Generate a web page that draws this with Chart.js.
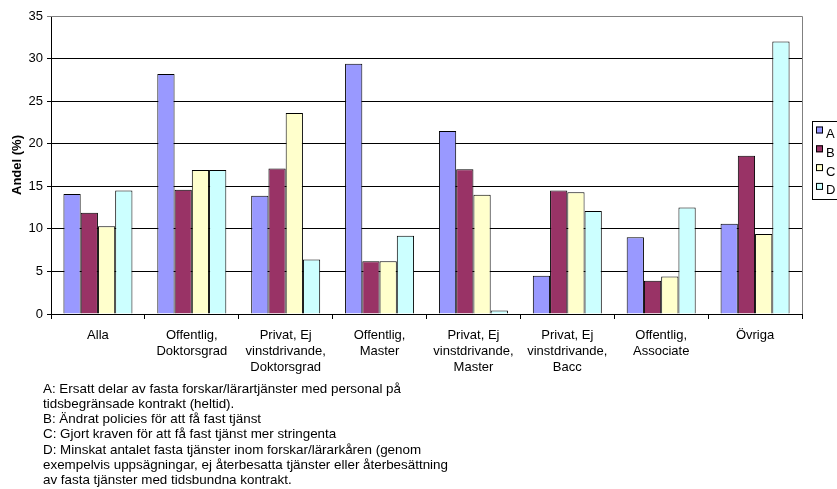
<!DOCTYPE html>
<html>
<head>
<meta charset="utf-8">
<script src="https://cdn.jsdelivr.net/npm/chart.js@4/dist/chart.umd.min.js"></script>
<style>
  html, body { margin: 0; padding: 0; background: #fff; }
  #wrap { width: 837px; height: 489px; position: relative; }
</style>
</head>
<body>
<div id="wrap"><canvas id="c" width="837" height="489"></canvas></div>
<script>
// Categories (multi-line labels)
const categories = [
  ['Alla'],
  ['Offentlig,', 'Doktorsgrad'],
  ['Privat, Ej', 'vinstdrivande,', 'Doktorsgrad'],
  ['Offentlig,', 'Master'],
  ['Privat, Ej', 'vinstdrivande,', 'Master'],
  ['Privat, Ej', 'vinstdrivande,', 'Bacc'],
  ['Offentlig,', 'Associate'],
  ['Övriga']
];

// Share (%) per category for each measure
const seriesA = [14.1, 28.2, 13.9, 29.4, 21.5, 4.5, 9.0, 10.6];
const seriesB = [11.9, 14.6, 17.1, 6.2, 17.0, 14.5, 3.9, 18.6];
const seriesC = [10.3, 16.9, 23.6, 6.2, 14.0, 14.3, 4.4, 9.4];
const seriesD = [14.5, 16.9, 6.4, 9.2, 0.4, 12.1, 12.5, 32.0];

const seriesNames = ['A', 'B', 'C', 'D'];
const yTicks = [0, 5, 10, 15, 20, 25, 30, 35];

const footnoteLines = [
  'A: Ersatt delar av fasta forskar/lärartjänster med personal på',
  'tidsbegränsade kontrakt (heltid).',
  'B: Ändrat policies för att få fast tjänst',
  'C: Gjort kraven för att få fast tjänst mer stringenta',
  'D: Minskat antalet fasta tjänster inom forskar/lärarkåren (genom',
  'exempelvis uppsägningar, ej återbesatta tjänster eller återbesättning',
  'av fasta tjänster med tidsbundna kontrakt.'
];

const colors = ['#9999FF', '#993366', '#FFFFCC', '#CCFFFF'];
const FONT = '"Liberation Sans", Arial, sans-serif';
const FS = 13;

// Frame (top/right in grey), boxed legend and footnote text
const decorPlugin = {
  id: 'decor',
  afterDraw(chart) {
    const ctx = chart.ctx;
    const a = chart.chartArea;
    ctx.save();
    ctx.strokeStyle = '#808080';
    ctx.lineWidth = 1;
    ctx.beginPath();
    ctx.moveTo(a.left, a.top + 0.5);
    ctx.lineTo(a.right + 0.5, a.top + 0.5);
    ctx.lineTo(a.right + 0.5, a.bottom);
    ctx.stroke();

    // Legend box
    const lx = 812, ly = 121, lw = 40, lh = 78;
    ctx.strokeStyle = '#000';
    ctx.strokeRect(lx + 0.5, ly + 0.5, lw, lh);
    ctx.font = FS + 'px ' + FONT;
    ctx.textBaseline = 'middle';
    ctx.textAlign = 'left';
    chart.data.datasets.forEach((ds, i) => {
      const cy = 133.5 + i * 18.8;
      ctx.fillStyle = ds.backgroundColor;
      ctx.fillRect(816, cy - 7, 7, 7);
      ctx.strokeStyle = '#000';
      ctx.strokeRect(816.5, cy - 6.5, 6, 6);
      ctx.fillStyle = '#000';
      ctx.fillText(ds.label, 826, cy + 1);
    });

    // Footnote
    ctx.font = '13.4px ' + FONT;
    ctx.textBaseline = 'middle';
    ctx.fillStyle = '#000';
    footnoteLines.forEach((t, i) => {
      ctx.fillText(t, 43, 389.5 + i * 15.1);
    });
    ctx.restore();
  }
};

const seriesValues = [seriesA, seriesB, seriesC, seriesD];

new Chart(document.getElementById('c'), {
  type: 'bar',
  data: {
    labels: categories,
    datasets: seriesNames.map((n, i) => ({
      label: n,
      data: seriesValues[i],
      backgroundColor: colors[i],
      borderColor: '#000',
      borderWidth: 1,
      barPercentage: 1.0,
      categoryPercentage: 0.735
    }))
  },
  options: {
    responsive: false,
    animation: false,
    devicePixelRatio: 1,
    layout: { padding: { left: 0, right: 35, top: 16, bottom: 115 } },
    plugins: {
      legend: { display: false },
      tooltip: { enabled: false }
    },
    scales: {
      x: {
        offset: true,
        grid: {
          display: true,
          offset: true,
          drawOnChartArea: false,
          color: '#000',
          tickLength: 5
        },
        border: { color: '#000', width: 1 },
        ticks: {
          color: '#000',
          font: { family: FONT, size: FS, lineHeight: 1.23 },
          maxRotation: 0,
          autoSkip: false,
          padding: 8
        },
        afterFit(scale) { scale.height = 60; }
      },
      y: {
        min: 0,
        max: 35,
        afterBuildTicks(scale) { scale.ticks = yTicks.map(v => ({ value: v })); },
        grid: {
          color: (c) => (c.tick && c.tick.value === 35 ? '#808080' : '#000'),
          tickLength: 4
        },
        border: { color: '#000', width: 1 },
        ticks: {
          color: '#000',
          font: { family: FONT, size: FS },
          padding: 4
        },
        title: {
          display: true,
          text: 'Andel (%)',
          color: '#000',
          font: { family: FONT, size: FS, weight: 'bold' },
          padding: { top: 10, bottom: 0 }
        },
        afterFit(scale) { scale.width = 51; }
      }
    }
  },
  plugins: [decorPlugin]
});
</script>
</body>
</html>
